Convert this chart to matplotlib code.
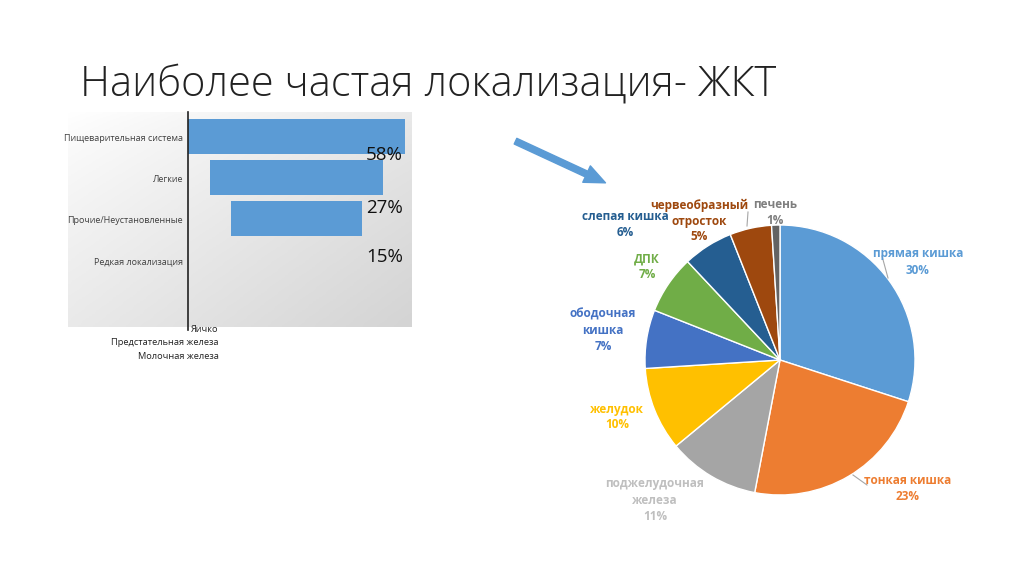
import matplotlib.pyplot as plt
import numpy as np
from matplotlib.colors import LinearSegmentedColormap

plt.rcParams['font.family'] = ['Open Sans', 'DejaVu Sans']

# left chart: funnel-like bars
bar_cats = ['Пищеварительная система', 'Легкие', 'Прочие/Неустановленные', 'Редкая локализация']
bar_vals = [100, 80, 60, 0]
bar_pcts = ['58%', '27%', '15%']
rare_items = ['Яичко', 'Предстательная железа', 'Молочная железа']

# right chart: pie
pie_labels = ['прямая кишка', 'тонкая кишка', 'поджелудочная\nжелеза', 'желудок',
              'ободочная\nкишка', 'ДПК', 'слепая кишка', 'червеобразный\nотросток', 'печень']
pie_vals = [30, 23, 11, 10, 7, 7, 6, 5, 1]
pie_colors = ['#5B9BD5', '#ED7D31', '#A5A5A5', '#FFC000', '#4472C4',
              '#70AD47', '#255E91', '#9E480E', '#636363']
text_colors = ['#5B9BD5', '#ED7D31', '#BFBFBF', '#FFC000', '#4472C4',
               '#70AD47', '#255E91', '#9E480E', '#7F7F7F']

W, H = 1024, 574
fig = plt.figure(figsize=(W / 100, H / 100), dpi=100)


def px_axes(x0, y0, x1, y1):
    # axes from pixel box (top-left origin)
    return fig.add_axes([x0 / W, 1 - y1 / H, (x1 - x0) / W, (y1 - y0) / H])


fig.text(80 / W, 1 - 84 / H, 'Наиболее частая локализация- ЖКТ', fontsize=30,
         fontweight='light', color='#222222', va='center', ha='left')

# ---- bar panel
axb = px_axes(68, 112, 412, 327)
scale = 2.17
xl = (-120 / scale, 224 / scale)
yl = (4.63, -0.6)
grad = np.add.outer(np.linspace(0, 1, 100) ** 0.8, np.linspace(0, 1, 100)) / 2
cmap = LinearSegmentedColormap.from_list('g', ['#ffffff', '#d4d4d4'])
axb.imshow(grad, extent=(xl[0], xl[1], yl[0], yl[1]), cmap=cmap, aspect='auto', zorder=0)
lefts = [(100 - v) / 2 for v in bar_vals]
axb.barh(range(len(bar_vals)), bar_vals, left=lefts, height=0.85, color='#5B9BD5', zorder=2)
axb.set_xlim(*xl)
axb.set_ylim(*yl)
axb.axis('off')
axb.plot([0, 0], [yl[0] + 0.08, yl[1]], color='#222222', lw=1.2, clip_on=False, zorder=3)
for i, c in enumerate(bar_cats):
    axb.text(-2.3, i + 0.05, c, ha='right', va='center', fontsize=6.5, color='#404040')
pct_rows = [0.45, 1.73, 2.93]
for r, p in zip(pct_rows, bar_pcts):
    axb.text(90.5, r, p, ha='center', va='center', fontsize=13.5, color='#111111', zorder=4)
for i, t in enumerate(rare_items):
    axb.text(14, 4.63 + 0.05 + i * 0.33, t, ha='right', va='center', fontsize=6.7,
             color='#222222', clip_on=False)

# ---- arrow
fig.add_artist(plt.matplotlib.patches.FancyArrowPatch(
    (513 / W, 1 - 140 / H), (608 / W, 1 - 184 / H), transform=fig.transFigure,
    arrowstyle='simple,head_length=15,head_width=13,tail_width=4.5',
    color='#5B9BD5', mutation_scale=1))

# ---- pie
axp = px_axes(645, 225, 915, 495)
axp.pie(pie_vals, colors=pie_colors, startangle=90, counterclock=False,
        wedgeprops=dict(edgecolor='white', linewidth=1))
axp.set_xlim(-1, 1)
axp.set_ylim(-1, 1)
axp.set_aspect('equal')

cx, cy, R = 780, 360, 135
# pixel position of the first text line of each label
label_px = [(918, 254), (908, 481), (655, 484), (617, 409), (603, 314),
            (647, 259), (625, 216), (699, 205), (775, 204)]
line_h = 16
for lab, v, tc, (lx, ly) in zip(pie_labels, pie_vals, text_colors, label_px):
    lines = lab.split('\n') + [f'{v}%']
    for k, ln in enumerate(lines):
        axp.text((lx - cx) / R, (cy - ly - k * line_h) / R, ln, ha='center', va='center',
                 fontsize=8.5, fontweight='bold', color=tc, clip_on=False)

leaders = [((882, 256), (888, 278)), ((853, 475), (867, 485)), ((748, 212), (747, 226))]
for (x0, y0), (x1, y1) in leaders:
    axp.plot([(x0 - cx) / R, (x1 - cx) / R], [(cy - y0) / R, (cy - y1) / R],
             color='#A6A6A6', lw=0.8, clip_on=False)

fig.savefig('out.png', dpi=100)
